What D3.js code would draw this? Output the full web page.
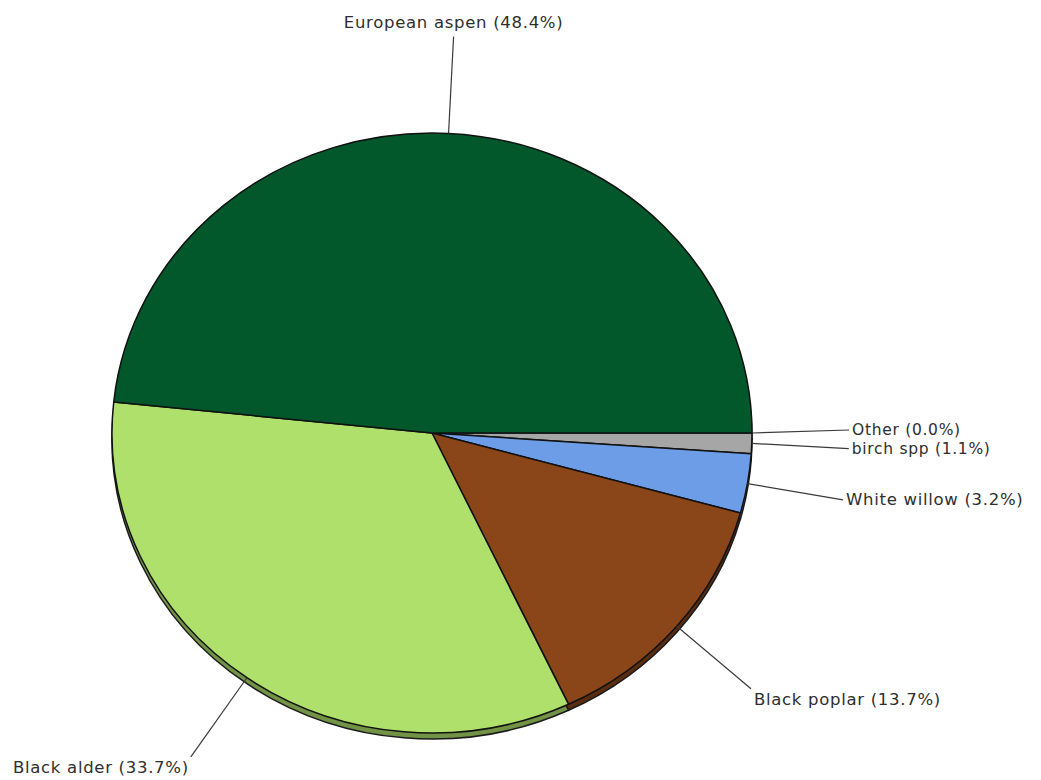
<!DOCTYPE html>
<html>
<head>
	<meta charset="utf-8">
	<title>Tree species pie</title>
	<script src="https://d3js.org/d3.v7.min.js"></script>
	<style>
		body { margin: 0; background: #fff; }
	</style>
</head>
<body>
	<div class="chart"></div>

	<script type="text/javascript">

		// slices, clockwise from 3 o'clock
		var species = ['Other', 'birch spp', 'White willow', 'Black poplar', 'Black alder', 'European aspen']
		var shares = [0.0, 1.1, 3.2, 13.7, 33.7, 48.4]
		var sliceColor = ['#8c8c8c', '#a6a6a6', '#6d9de6', '#8a4519', '#afe06b', '#02572b']

		var width = 1041
		var height = 780
		var cx = 432
		var cy = 433
		var rx = 320
		var ry = 300
		var leader = 97

		var svg = d3
			.select('.chart')
			.append('svg')
			.attr('width', width)
			.attr('height', height)

		var data = species.map((d, i) => ({ name: d, value: shares[i], color: sliceColor[i] }))

		var pie = d3
			.pie()
			.sort(null)
			.value((d) => d.value)
			.startAngle(Math.PI / 2)
			.endAngle(Math.PI / 2 + Math.PI * 2)

		var arc = d3.arc().innerRadius(0).outerRadius(rx)
		var arcs = pie(data)

		// shadow layer (gives the slight 3D look at the bottom edge)
		svg
			.append('g')
			.attr('transform', `translate(${cx}, ${cy + 6}) scale(1, ${ry / rx})`)
			.selectAll('path')
			.data(arcs)
			.enter()
			.append('path')
			.attr('d', arc)
			.attr('fill', (d) => d3.color(d.data.color).darker(1.2))
			.attr('stroke', '#1a1a1a')
			.attr('stroke-width', 1.5)
			.attr('vector-effect', 'non-scaling-stroke')

		// slices
		svg
			.append('g')
			.attr('transform', `translate(${cx}, ${cy}) scale(1, ${ry / rx})`)
			.selectAll('path')
			.data(arcs)
			.enter()
			.append('path')
			.attr('d', arc)
			.attr('fill', (d) => d.data.color)
			.attr('stroke', '#111')
			.attr('stroke-width', 1.5)
			.attr('stroke-linejoin', 'round')
			.attr('vector-effect', 'non-scaling-stroke')

		// leader lines and labels
		var fmt = d3.format('.1f')
		var labels = svg.append('g')

		arcs.forEach((d, i) => {
			var a = (d.startAngle + d.endAngle) / 2
			var dx = Math.sin(a)
			var dy = -Math.cos(a)
			var x0 = cx + rx * dx
			var y0 = cy + ry * dy
			var x1 = x0 + leader * dx
			var y1 = y0 + leader * dy
			// the two thin slices at 3 o'clock: spread their labels a little
			if (i === 0) y1 -= 3
			if (i === 1) y1 += 2

			labels
				.append('line')
				.attr('x1', x0)
				.attr('y1', y0)
				.attr('x2', x1)
				.attr('y2', y1)
				.attr('stroke', '#3a3a3a')
				.attr('stroke-width', 1.2)

			var anchor = dx > 0.1 ? 'start' : dx < -0.1 ? 'end' : 'middle'
			var baseline = dy > 0.5 ? 'hanging' : dy < -0.5 ? 'auto' : 'central'
			var tx = anchor === 'start' ? x1 + 3 : anchor === 'end' ? x1 - 2 : x1
			var ty = baseline === 'hanging' ? y1 + 4 : baseline === 'auto' ? y1 - 9 : y1

			labels
				.append('text')
				.attr('x', tx)
				.attr('y', ty)
				.attr('text-anchor', anchor)
				.attr('dominant-baseline', baseline)
				.style('font-family', '"DejaVu Sans", Verdana, sans-serif')
				.style('font-size', (i < 2 ? 15.5 : 16.5) + 'px')
				.style('letter-spacing', '0.7px')
				.style('fill', '#2e2e2e')
				.text(`${d.data.name} (${fmt(d.data.value)}%)`)
		})

	</script>
</body>
</html>
